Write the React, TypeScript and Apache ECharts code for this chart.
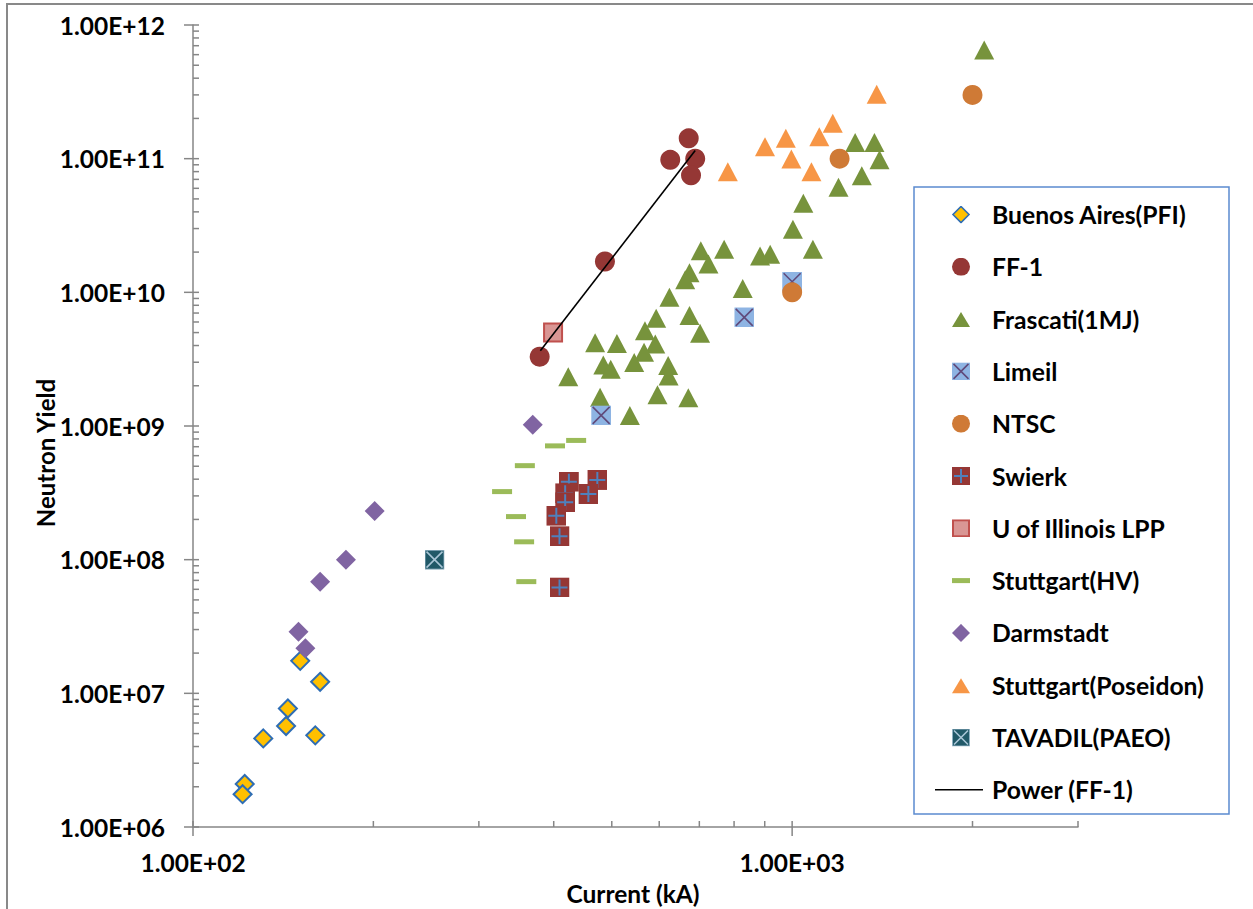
import React, { useEffect, useRef } from "react";
import * as echarts from "echarts";

// ---------- data (Current kA, Neutron yield) ----------
const BUENOS_AIRES: number[][] = [
  [151, 1.75e7], [163, 1.22e7], [144, 7.7e6], [143, 5.7e6],
  [131, 4.6e6], [160, 4.85e6], [122, 2.1e6], [121, 1.76e6],
];
const FF1: number[][] = [
  [379, 3.3e9], [487, 1.7e10], [626, 9.8e10], [672, 1.42e11], [689, 1.0e11], [678, 7.5e10],
];
const FRASCATI: number[][] = [
  [2092, 6.5e11], [1274, 1.32e11], [1372, 1.32e11], [1399, 9.8e10], [1307, 7.46e10],
  [1195, 6.11e10], [1044, 4.63e10], [1003, 2.96e10], [1083, 2.1e10], [919, 1.93e10],
  [884, 1.87e10], [770, 2.1e10], [704, 2.05e10], [725, 1.63e10], [674, 1.4e10],
  [663, 1.24e10], [624, 9.2e9], [827, 1.07e10], [593, 6.4e9], [674, 6.7e9],
  [568, 5.16e9], [702, 4.94e9], [469, 4.2e9], [510, 4.15e9], [591, 4.11e9],
  [566, 3.56e9], [545, 2.98e9], [484, 2.86e9], [498, 2.66e9], [621, 2.83e9],
  [622, 2.37e9], [423, 2.34e9], [596, 1.71e9], [671, 1.63e9], [478, 1.64e9], [536, 1.2e9],
];
const LIMEIL: number[][] = [[1000, 1.2e10], [832, 6.5e9], [480, 1.2e9]];
const NTSC: number[][] = [[1200, 1.0e11], [1000, 1.0e10], [2000, 3.0e11]];
const SWIERK: number[][] = [
  [424, 3.83e8], [473, 3.95e8], [418, 3.14e8], [457, 3.1e8],
  [418, 2.69e8], [404, 2.13e8], [409, 1.5e8], [409, 6.2e7],
];
const ILLINOIS: number[][] = [[399, 5.0e9]];
const STUTTGART_HV: number[][] = [
  [436, 7.8e8], [402, 7.1e8], [358, 5.05e8], [328, 3.23e8], [346, 2.1e8], [357, 1.36e8], [360, 6.85e7],
];
const DARMSTADT: number[][] = [
  [369, 1.02e9], [201, 2.31e8], [180, 1.0e8], [163, 6.84e7], [150, 2.89e7], [154, 2.17e7],
];
const POSEIDON: number[][] = [
  [1384, 3.03e11], [1169, 1.84e11], [976, 1.42e11], [1110, 1.46e11],
  [901, 1.23e11], [997, 9.94e10], [1077, 7.99e10], [781, 7.99e10],
];
const TAVADIL: number[][] = [[253, 1.0e8]];
const POWER_FIT: number[][] = [[380, 3.66e9], [689, 1.15e11]];

const X_MIN = 100;
const X_MAX = 3000;
const Y_MIN = 1e6;
const Y_MAX = 1e12;
const X_MAJOR = [100, 1000];
const X_MINOR = [200, 300, 400, 500, 600, 700, 800, 900, 2000, 3000];
const Y_EXPONENTS = [6, 7, 8, 9, 10, 11, 12];
const MINOR_MULT = [2, 3, 4, 5, 6, 7, 8, 9];

const FONT = "Lato";
const AXIS_COLOR = "#868686";

function svgUri(w: number, h: number, body: string) {
  return (
    "image://data:image/svg+xml;charset=utf-8," +
    encodeURIComponent(
      `<svg xmlns="http://www.w3.org/2000/svg" width="${w}" height="${h}" viewBox="0 0 ${w} ${h}">${body}</svg>`
    )
  );
}
const limeilBody = (s: number) =>
  `<rect x="0" y="0" width="${s}" height="${s}" fill="#8EB4E3"/><path d="M1.5,1.5L${s - 1.5},${s - 1.5}M${s - 1.5},1.5L1.5,${s - 1.5}" stroke="#604A7B" stroke-width="1.6" fill="none"/>`;
const swierkBody = (s: number) =>
  `<rect x="0" y="0" width="${s}" height="${s}" fill="#953735"/><path d="M${s / 2},2V${s - 2}M2,${s / 2}H${s - 2}" stroke="#4F81BD" stroke-width="2" fill="none"/>`;
const tavadilBody = (s: number) =>
  `<rect x="0.5" y="0.5" width="${s - 1}" height="${s - 1}" fill="#215968" stroke="#8FB0C2" stroke-width="1"/><path d="M2,2L${s - 2},${s - 2}M${s - 2},2L2,${s - 2}" stroke="#A9C5D6" stroke-width="1.6" fill="none"/>`;

const LW = 52;
const LH = 18;
const wrap = (body: string) => svgUri(LW, LH, `<g transform="translate(17,0)">${body}</g>`);
const LEGEND_ICONS: Record<string, string> = {
  "Buenos Aires(PFI)": wrap(`<polygon points="9,1 17,9 9,17 1,9" fill="#FFC000" stroke="#2E6DB4" stroke-width="1.6"/>`),
  "FF-1": wrap(`<circle cx="9" cy="9" r="9" fill="#953735"/>`),
  "Frascati(1MJ)": wrap(`<polygon points="9,2 18,17 0,17" fill="#77933C"/>`),
  Limeil: wrap(limeilBody(18)),
  NTSC: wrap(`<circle cx="9" cy="9" r="9" fill="#CF7A36"/>`),
  Swierk: wrap(swierkBody(18)),
  "U of Illinois LPP": wrap(`<rect x="1" y="1" width="16" height="16" fill="#D99694" stroke="#C0504D" stroke-width="2"/>`),
  "Stuttgart(HV)": wrap(`<rect x="0" y="6.5" width="18" height="5" fill="#9BBB59"/>`),
  Darmstadt: wrap(`<polygon points="9,0 18,9 9,18 0,9" fill="#8064A2"/>`),
  "Stuttgart(Poseidon)": wrap(`<polygon points="9,2 18,17 0,17" fill="#F79646"/>`),
  "TAVADIL(PAEO)": wrap(tavadilBody(18)),
  "Power (FF-1)": svgUri(LW, LH, `<line x1="0" y1="9" x2="48" y2="9" stroke="#000" stroke-width="1.6"/>`),
};
const LEGEND_ORDER = [
  "Buenos Aires(PFI)", "FF-1", "Frascati(1MJ)", "Limeil", "NTSC", "Swierk",
  "U of Illinois LPP", "Stuttgart(HV)", "Darmstadt", "Stuttgart(Poseidon)", "TAVADIL(PAEO)", "Power (FF-1)",
];

function expLabel(v: number) {
  const l = Math.log10(v);
  const e = Math.round(l);
  if (Math.abs(l - e) > 1e-6) return "";
  return "1.00E+" + String(e).padStart(2, "0");
}

function buildTicks() {
  // kind: 0 y-minor, 1 y-major, 2 x-minor, 3 x-major
  const t: number[][] = [];
  Y_EXPONENTS.forEach((e) => {
    t.push([X_MIN, Math.pow(10, e), 1]);
    if (e < 12) MINOR_MULT.forEach((m) => t.push([X_MIN, m * Math.pow(10, e), 0]));
  });
  X_MAJOR.forEach((v) => t.push([v, Y_MIN, 3]));
  X_MINOR.forEach((v) => t.push([v, Y_MIN, 2]));
  return t;
}

export default function App() {
  const ref = useRef<HTMLDivElement>(null);
  useEffect(() => {
    if (!ref.current) return;
    const chart = echarts.init(ref.current, undefined, { renderer: "svg" });
    const labelStyle = { fontFamily: FONT, fontWeight: "bold" as const, fontSize: 24.5, color: "#000" };
    const scatter = (name: string, data: number[][], symbol: string, size: any, itemStyle: any) => ({
      name,
      type: "scatter",
      data,
      symbol,
      symbolSize: size,
      itemStyle: { opacity: 1, ...itemStyle },
      emphasis: { disabled: true },
    });
    const option: any = {
      animation: false,
      backgroundColor: "#fff",
      grid: { left: 193, top: 25, width: 885, height: 802 },
      xAxis: {
        type: "log",
        logBase: 10,
        min: X_MIN,
        max: X_MAX,
        axisLine: { show: true, lineStyle: { color: AXIS_COLOR, width: 1.5 } },
        axisTick: { show: false },
        splitLine: { show: false },
        axisLabel: { ...labelStyle, margin: 23, formatter: expLabel, showMaxLabel: false },
      },
      yAxis: {
        type: "log",
        logBase: 10,
        min: Y_MIN,
        max: Y_MAX,
        axisLine: { show: true, lineStyle: { color: AXIS_COLOR, width: 1.5 } },
        axisTick: { show: false },
        splitLine: { show: false },
        axisLabel: { ...labelStyle, margin: 28, formatter: expLabel },
      },
      legend: {
        orient: "vertical",
        left: 935,
        top: 202,
        padding: 0,
        itemWidth: LW,
        itemHeight: LH,
        itemGap: 27.3,
        z: 10,
        selectedMode: false,
        textStyle: { fontFamily: FONT, fontWeight: "bold", fontSize: 24.7, color: "#000", lineHeight: 24 },
        data: LEGEND_ORDER.map((n) => ({ name: n, icon: LEGEND_ICONS[n] })),
      },
      graphic: [
        {
          type: "rect",
          z: 0,
          silent: true,
          shape: { x: 7, y: 4, width: 1400, height: 1100 },
          style: { fill: "none", stroke: "#898989", lineWidth: 2 },
        },
        {
          type: "rect",
          z: 6,
          silent: true,
          shape: { x: 914, y: 187, width: 315, height: 627 },
          style: { fill: "#fff", stroke: "#5B8BD0", lineWidth: 1.5 },
        },
        {
          type: "text",
          x: 45,
          y: 453,
          rotation: Math.PI / 2,
          silent: true,
          style: { text: "Neutron Yield", font: `bold 24px ${FONT}`, fill: "#000", align: "center", verticalAlign: "middle" },
        },
        {
          type: "text",
          x: 633,
          y: 893,
          silent: true,
          style: { text: "Current (kA)", font: `bold 24.5px ${FONT}`, fill: "#000", align: "center", verticalAlign: "middle" },
        },
      ],
      series: [
        {
          name: "ticks",
          type: "custom",
          silent: true,
          clip: false,
          data: buildTicks(),
          renderItem: (_p: any, api: any) => {
            const c = api.coord([api.value(0), api.value(1)]);
            const k = api.value(2);
            let shape: any;
            if (k === 0) shape = { x1: c[0], y1: c[1], x2: c[0] + 6, y2: c[1] };
            else if (k === 1) shape = { x1: c[0] - 9, y1: c[1], x2: c[0] + 6, y2: c[1] };
            else if (k === 2) shape = { x1: c[0], y1: c[1], x2: c[0], y2: c[1] - 6 };
            else shape = { x1: c[0], y1: c[1] + 9, x2: c[0], y2: c[1] - 6 };
            return { type: "line", shape, style: { stroke: AXIS_COLOR, lineWidth: 1.5 } };
          },
        },
        scatter("Buenos Aires(PFI)", BUENOS_AIRES, "diamond", 18, { color: "#FFC000", borderColor: "#2E6DB4", borderWidth: 2 }),
        scatter("FF-1", FF1, "circle", 20, { color: "#953735" }),
        scatter("Frascati(1MJ)", FRASCATI, "triangle", [20, 19], { color: "#77933C" }),
        scatter("Limeil", LIMEIL, svgUri(20, 20, limeilBody(20)), 20, {}),
        scatter("NTSC", NTSC, "circle", 20, { color: "#CF7A36" }),
        scatter("Swierk", SWIERK, svgUri(20, 20, swierkBody(20)), 20, {}),
        scatter("U of Illinois LPP", ILLINOIS, "rect", 18, { color: "#D99694", borderColor: "#C0504D", borderWidth: 2 }),
        scatter("Stuttgart(HV)", STUTTGART_HV, "rect", [20, 5], { color: "#9BBB59" }),
        scatter("Darmstadt", DARMSTADT, "diamond", 20, { color: "#8064A2" }),
        scatter("Stuttgart(Poseidon)", POSEIDON, "triangle", [20, 19], { color: "#F79646" }),
        scatter("TAVADIL(PAEO)", TAVADIL, svgUri(20, 20, tavadilBody(20)), 20, {}),
        {
          name: "Power (FF-1)",
          type: "line",
          data: POWER_FIT,
          symbol: "none",
          lineStyle: { color: "#000", width: 1.6 },
          itemStyle: { color: "#000" },
          z: 3,
        },
      ],
    };
    chart.setOption(option);
    return () => chart.dispose();
  }, []);
  return (
    <div
      ref={ref}
      style={{ position: "absolute", left: 0, top: 0, width: 1253, height: 909, background: "#fff" }}
    />
  );
}
